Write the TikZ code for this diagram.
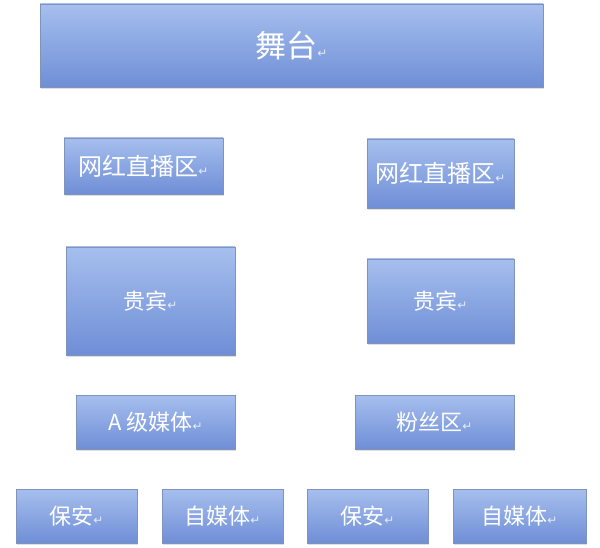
\documentclass[tikz,border=0pt]{standalone}
\usepackage{fontspec}
\newfontfamily\cjk{Noto Sans CJK SC}
\newfontfamily\symb{DejaVu Sans}
\usetikzlibrary{shadows, positioning}

\definecolor{boxtop}{HTML}{A6BFEE}
\definecolor{boxbot}{HTML}{6F8ED6}
\definecolor{boxline}{HTML}{7F93BC}
\definecolor{markcol}{HTML}{E4ECFA}
\newcommand{\pmark}{{\symb\fontsize{12}{12}\selectfont\textcolor{markcol}{↵}}}

\begin{document}
\begin{tikzpicture}[
          x=1pt, y=-1pt,
          zone/.style={draw=boxline, line width=0.6pt,
            top color=boxtop, bottom color=boxbot,
            text=white, inner sep=0pt,
            drop shadow={shadow xshift=0.6pt, shadow yshift=-1.6pt, opacity=0.25},
            font=\cjk\fontsize{22}{22}\selectfont},
          big/.style={font=\cjk\fontsize{31}{31}\selectfont},
          mid/.style={font=\cjk\fontsize{24}{24}\selectfont}
        ]
        \useasboundingbox (0,0) rectangle (600,548);
        % stage
        \node[zone, big, minimum width=503pt, minimum height=83pt] (stage) at (291.5,45.5) {舞台\pmark};
        % live streaming
        \node[zone, mid, minimum width=159pt, minimum height=56pt] (liveL) at (143.5,166) {网红直播区\pmark};
        \node[zone, mid, minimum width=147pt, minimum height=69pt] (liveR) at (440.5,173.5) {网红直播区\pmark};
        % guests
        \node[zone, minimum width=169pt, minimum height=108pt] (vipL) at (150.5,301) {贵宾\pmark};
        \node[zone, minimum width=147pt, minimum height=84pt] (vipR) at (440.5,301) {贵宾\pmark};
        % media and fans
        \node[zone, minimum width=159pt, minimum height=54pt] (mediaA) at (155.5,422) {A 级媒体\pmark};
        \node[zone, minimum width=159pt, minimum height=54pt] (fans) at (434.5,422) {粉丝区\pmark};
        % bottom row
        \node[zone, minimum width=121pt, minimum height=54pt] (guardL) at (76.5,516) {保安\pmark};
        \node[zone, minimum width=121pt, minimum height=54pt] (selfL) at (222.5,516) {自媒体\pmark};
        \node[zone, minimum width=121pt, minimum height=54pt] (guardR) at (367.5,516) {保安\pmark};
        \node[zone, minimum width=133pt, minimum height=54pt] (selfR) at (519.5,516) {自媒体\pmark};
\end{tikzpicture}
\end{document}
